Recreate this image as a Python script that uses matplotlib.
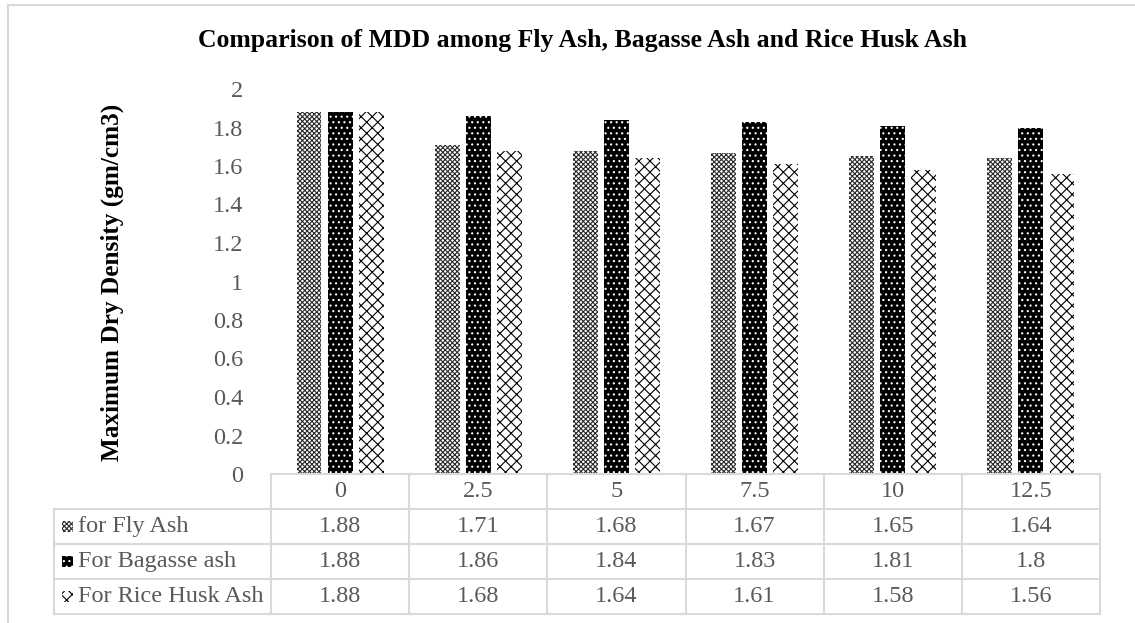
import matplotlib
matplotlib.use("Agg")
import matplotlib.pyplot as plt
import matplotlib.transforms as mtransforms
from matplotlib.patches import Rectangle
import numpy as np

# Replacement level (%) of each ash in the soil mix
categories = ["0", "2.5", "5", "7.5", "10", "12.5"]
series_names = ["for Fly Ash", "For Bagasse ash", "For Rice Husk Ash"]
fly_ash = [1.88, 1.71, 1.68, 1.67, 1.65, 1.64]
bagasse_ash = [1.88, 1.86, 1.84, 1.83, 1.81, 1.80]
rice_husk_ash = [1.88, 1.68, 1.64, 1.61, 1.58, 1.56]
value_labels = [
    ["1.88", "1.71", "1.68", "1.67", "1.65", "1.64"],
    ["1.88", "1.86", "1.84", "1.83", "1.81", "1.8"],
    ["1.88", "1.68", "1.64", "1.61", "1.58", "1.56"],
]
y_ticks = [0, 0.2, 0.4, 0.6, 0.8, 1, 1.2, 1.4, 1.6, 1.8, 2]
y_tick_labels = ["0", "0.2", "0.4", "0.6", "0.8", "1", "1.2", "1.4", "1.6", "1.8", "2"]

title = "Comparison of MDD among Fly Ash, Bagasse Ash and Rice Husk Ash"
y_label = "Maximum Dry Density (gm/cm3)"

W, H = 1135, 623
plt.rcParams["font.family"] = ["Liberation Serif", "DejaVu Serif"]
plt.rcParams["hatch.linewidth"] = 0.8

fig = plt.figure(figsize=(W / 100, H / 100), dpi=100)
fig.patch.set_facecolor("white")

def fx(x):
    return x / W

def fy(y):
    return 1 - y / H

# outer chart border
fig.patches.append(Rectangle((fx(8), fy(640)), fx(1150) - fx(8), fy(4.5) - fy(640),
                             transform=fig.transFigure, fill=False,
                             edgecolor="#d9d9d9", linewidth=1.5, zorder=0))

ax = fig.add_axes([fx(271), fy(474), fx(1100) - fx(271), fy(89) - fy(474)])
ax.set_xlim(-0.5, len(categories) - 0.5)
ax.set_ylim(0, 2)
for s in ax.spines.values():
    s.set_visible(False)
ax.set_xticks([])
ax.set_yticks(y_ticks)
ax.set_yticklabels(y_tick_labels, color="#595959", fontsize=17.5)
ax.tick_params(axis="y", length=0, pad=20)

x = np.arange(len(categories))
bw = 0.18
step = 0.225
styles = [
    dict(facecolor="white", edgecolor="#2a2a2a", hatch="xxxxxxx"),
    dict(facecolor="black", edgecolor="white", hatch="..."),
    dict(facecolor="white", edgecolor="black", hatch="xxx"),
]
all_vals = [fly_ash, bagasse_ash, rice_husk_ash]
for i, (vals, st) in enumerate(zip(all_vals, styles)):
    ax.bar(x + (i - 1) * step, vals, width=bw, linewidth=0, **st)

fig.text(fx(583), fy(40), title, ha="center", va="center",
         fontsize=18.5, fontweight="bold")
fig.text(fx(112), fy(282), y_label, ha="center", va="center", rotation=90,
         fontsize=18.2, fontweight="bold")

# data table below the plot
tr = mtransforms.blended_transform_factory(ax.transData, fig.transFigure)
grid_c = "#d9d9d9"
lw = 1.5
row_edges = [474, 509, 544, 579, 614]
left_x = -0.5 - (271 - 54) / ((1100 - 271) / len(categories))
right_x = len(categories) - 0.5

# horizontal lines
fig.add_artist(plt.Line2D([-0.5, right_x], [fy(row_edges[0])] * 2, transform=tr,
                          color=grid_c, lw=lw))
for ry in row_edges[1:]:
    fig.add_artist(plt.Line2D([left_x, right_x], [fy(ry)] * 2, transform=tr,
                              color=grid_c, lw=lw))
# vertical lines
for cx in np.arange(-0.5, len(categories), 1.0):
    fig.add_artist(plt.Line2D([cx, cx], [fy(row_edges[0]), fy(row_edges[-1])],
                              transform=tr, color=grid_c, lw=lw))
fig.add_artist(plt.Line2D([left_x, left_x], [fy(row_edges[1]), fy(row_edges[-1])],
                          transform=tr, color=grid_c, lw=lw))

txt_c = "#595959"
fs = 17.5
for j, c in enumerate(categories):
    fig.text(x[j], fy((row_edges[0] + row_edges[1]) / 2), c, transform=tr,
             ha="center", va="center", fontsize=fs, color=txt_c)
for i in range(3):
    yc = (row_edges[i + 1] + row_edges[i + 2]) / 2
    for j in range(len(categories)):
        fig.text(x[j], fy(yc), value_labels[i][j], transform=tr,
                 ha="center", va="center", fontsize=fs, color=txt_c)
    fig.text(fx(78), fy(yc), series_names[i], ha="left", va="center",
             fontsize=fs, color=txt_c)
    key = Rectangle((fx(62), fy(yc + 5)), fx(11), fy(0) - fy(11),
                    transform=fig.transFigure, linewidth=0, **styles[i])
    fig.patches.append(key)

fig.savefig("out.png", dpi=100)
